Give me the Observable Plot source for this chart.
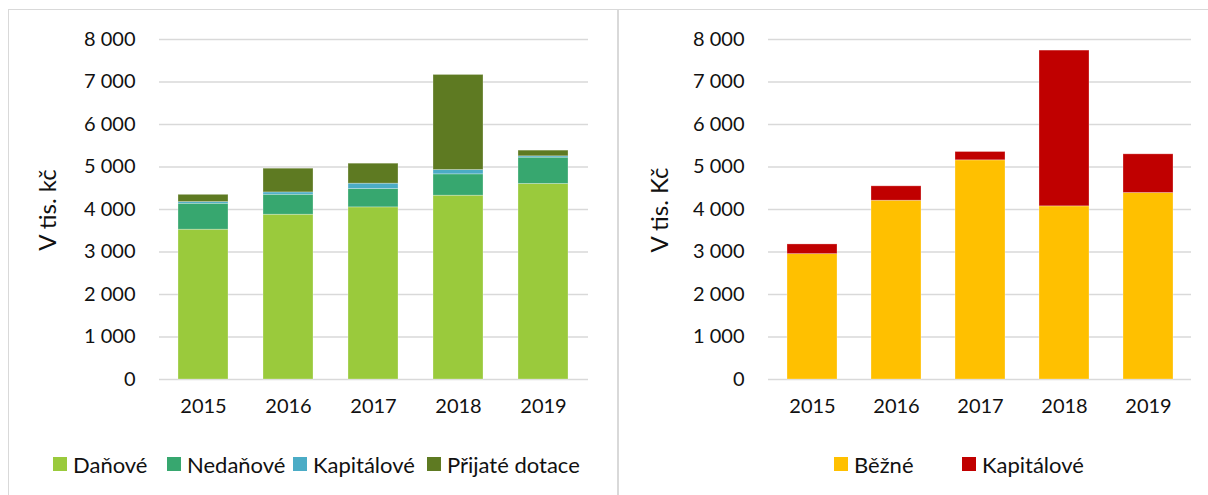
<!DOCTYPE html>
<html>
<head>
<meta charset="utf-8">
<script src="https://cdn.jsdelivr.net/npm/d3@7"></script>
<script src="https://cdn.jsdelivr.net/npm/@observablehq/plot@0.6"></script>
<style>
  html, body { margin: 0; padding: 0; background: #fff; }
  #page { position: relative; width: 1208px; height: 495px; overflow: hidden; font-family: Lato, "Open Sans", sans-serif; color: #111; }
  .panel { position: absolute; border: 1.5px solid #d9d9d9; box-sizing: border-box; }
  .chart { position: absolute; }
  .ytitle { position: absolute; font-size: 24px; white-space: nowrap; transform: translate(-50%, -50%) rotate(-90deg); }
  .legend { position: absolute; top: 452px; height: 24px; display: flex; align-items: center; font-size: 22px; white-space: nowrap; }
  .legend .sw { width: 14px; height: 14px; margin-right: 6px; }
</style>
</head>
<body>
<div id="page">
  <div class="panel" style="left:8px; top:9px; width:611px; height:500px;"></div>
  <div class="panel" style="left:617px; top:9px; width:600px; height:500px;"></div>
  <div class="chart" id="left" style="left:9px; top:10px;"></div>
  <div class="chart" id="right" style="left:618px; top:10px;"></div>
  <div class="ytitle" style="left:46px; top:210px;">V tis. kč</div>
  <div class="ytitle" style="left:658px; top:210px;">V tis. Kč</div>
</div>
<script>
// ---- data ----
const years = ["2015", "2016", "2017", "2018", "2019"];
const yTicks = [0, 1000, 2000, 3000, 4000, 5000, 6000, 7000, 8000];

const incomeSeries = ["Daňové", "Nedaňové", "Kapitálové", "Přijaté dotace"];
const danove = [3525, 3877, 4050, 4325, 4600];
const nedanove = [610, 470, 432, 502, 620];
const kapitalovePrijmy = [40, 55, 126, 102, 31];
const prijateDotace = [170, 558, 470, 2237, 134];
const incomeColors = ["#9ACA3C", "#37A76F", "#4BACC6", "#5E7A22"];

const expenseSeries = ["Běžné", "Kapitálové"];
const bezne = [2950, 4207, 5157, 4074, 4388];
const kapitaloveVydaje = [228, 338, 196, 3665, 910];
const expenseColors = ["#FFC000", "#C00000"];

// legend item left positions (page layout)
const incomeLegendX = [53, 167, 293, 427];
const expenseLegendX = [834, 962];

// ---- tables ----
function tidy(seriesNames, valuesList) {
  const rows = [];
  seriesNames.forEach((s, i) => {
    years.forEach((y, j) => rows.push({year: y, series: s, value: valuesList[i][j]}));
  });
  return rows;
}
const incomeData = tidy(incomeSeries, [danove, nedanove, kapitalovePrijmy, prijateDotace]);
const expenseData = tidy(expenseSeries, [bezne, kapitaloveVydaje]);

const fmt = d => d3.format(",")(d).replace(/,/g, "\u00a0");

function chart(data, seriesNames, colors, width, marginLeft, marginRight) {
  return Plot.plot({
    width: width,
    height: 420,
    marginTop: 29,
    marginBottom: 51,
    marginLeft: marginLeft,
    marginRight: marginRight,
    style: {fontFamily: "Lato, 'Open Sans', sans-serif", fontSize: "20px", color: "#111", background: "transparent"},
    x: {domain: years, paddingInner: 0.41, paddingOuter: 0.205, label: null, tickSize: 0, tickPadding: 19},
    y: {domain: [0, 8000], ticks: yTicks, tickFormat: fmt, label: null, tickSize: 0, tickPadding: 24},
    color: {domain: seriesNames, range: colors},
    marks: [
      Plot.ruleY(yTicks, {stroke: "#d9d9d9", strokeWidth: 1.6}),
      Plot.barY(data, Plot.stackY({order: seriesNames}, {
        x: "year", y: "value", z: "series", fill: "series",
        stroke: "#ffffff", strokeOpacity: 0.35, strokeWidth: 0.8
      }))
    ]
  });
}

document.getElementById("left").append(chart(incomeData, incomeSeries, incomeColors, 608, 150, 29));
document.getElementById("right").append(chart(expenseData, expenseSeries, expenseColors, 589, 150, 16));

function legend(names, colors, xs) {
  const page = document.getElementById("page");
  names.forEach((n, i) => {
    const item = document.createElement("div");
    item.className = "legend";
    item.style.left = xs[i] + "px";
    const sw = document.createElement("span");
    sw.className = "sw";
    sw.style.background = colors[i];
    const t = document.createElement("span");
    t.textContent = n;
    item.append(sw, t);
    page.append(item);
  });
}
legend(incomeSeries, incomeColors, incomeLegendX);
legend(expenseSeries, expenseColors, expenseLegendX);
</script>
</body>
</html>
